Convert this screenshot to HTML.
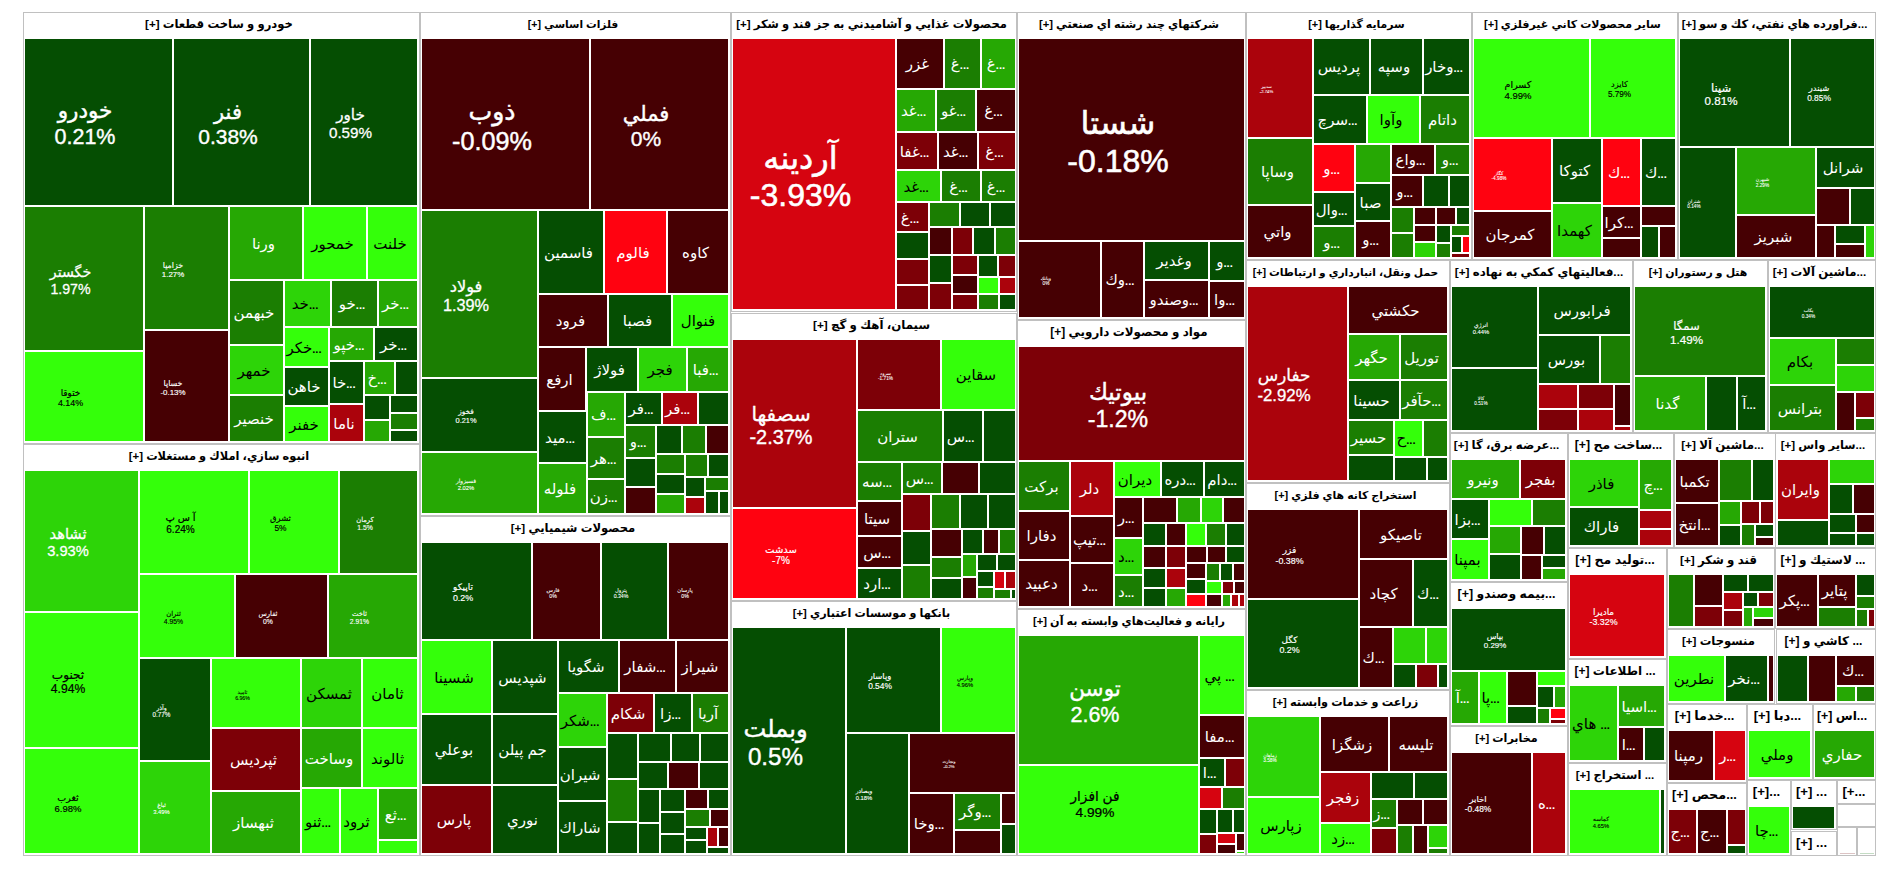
<!DOCTYPE html>
<html lang="fa"><head><meta charset="utf-8"><title>treemap</title>
<style>
html,body{margin:0;padding:0;background:#fff;}
body{width:1900px;height:873px;position:relative;overflow:hidden;font-family:"Liberation Sans","DejaVu Sans",sans-serif;}
.g{position:absolute;box-sizing:border-box;border:1px solid #c0c0c0;background:#fff;overflow:hidden;}
.h{position:absolute;left:0;right:0;top:0;height:25px;line-height:22px;font-size:11.7px;font-weight:bold;color:#000;text-align:center;padding-right:5px;white-space:nowrap;overflow:hidden;direction:rtl;}
.c{position:absolute;display:flex;flex-direction:column;align-items:center;justify-content:center;overflow:hidden;color:#fff;white-space:nowrap;line-height:1.17;text-align:center;}
.c.k{color:#000;}
.c i{font-style:normal;display:block;direction:ltr;position:relative;left:-2.5px;top:0.5px;}
.c.p i,.c.p b{position:relative;left:-13.5px;top:calc(1.3px + 0.06em);-webkit-text-stroke:0.018em currentColor;}
.c b{font-weight:normal;display:block;direction:ltr;}
.n{font-size:15px;}
.c u{text-decoration:none;font-size:.75em;font-weight:bold;}

.g1{background:#054e02;}
.g2{background:#1b7e02;}
.g3{background:#26a804;}
.g4{background:#2dd408;}
.g5{background:#34ff0a;}
.p1{background:#dcc4c4;}
.p2{background:#c4dcc4;}
.r1{background:#460003;}
.r2{background:#7d0007;}
.r3{background:#ab030c;}
.r4{background:#d60410;}
.r5{background:#ff0210;}
</style></head><body>
<div class="g" style="left:23px;top:12px;width:397px;height:432px">
<div class="h" style="font-size:11.6px">خودرو و ساخت قطعات [+]</div>
<div class="c g1 p" style="left:1px;top:26px;width:147px;height:166px;font-size:21.5px"><i>خودرو</i><b>0.21%</b></div>
<div class="c g1 p" style="left:150px;top:26px;width:135px;height:166px;font-size:21px"><i>فنر</i><b>0.38%</b></div>
<div class="c g1 p" style="left:287px;top:26px;width:106px;height:166px;font-size:15.2px"><i>خاور</i><b>0.59%</b></div>
<div class="c g2 p" style="left:1px;top:194px;width:118px;height:143px;font-size:14.2px"><i>خگستر</i><b>1.97%</b></div>
<div class="c g2 p" style="left:121px;top:194px;width:83px;height:122px;font-size:7.9px"><i>خزاميا</i><b>1.27%</b></div>
<div class="c g3 n" style="left:206px;top:194px;width:72px;height:72px"><i>ورنا</i></div>
<div class="c g5 k n" style="left:280px;top:194px;width:62px;height:72px"><i>خمحور</i></div>
<div class="c g5 k n" style="left:344px;top:194px;width:49px;height:72px"><i>خلنت</i></div>
<div class="c g5 k p" style="left:1px;top:339px;width:118px;height:89px;font-size:8.9px"><i>ختوقا</i><b>4.14%</b></div>
<div class="c r1 p" style="left:121px;top:318px;width:83px;height:110px;font-size:7.9px"><i>خساپا</i><b>-0.13%</b></div>
<div class="c g2 n" style="left:206px;top:268px;width:53px;height:63px"><i>خبهمن</i></div>
<div class="c g4 k n" style="left:206px;top:333px;width:53px;height:48px"><i>خمهر</i></div>
<div class="c g2 n" style="left:206px;top:383px;width:53px;height:45px"><i>خنصير</i></div>
<div class="c g4 k n" style="left:261px;top:268px;width:45px;height:45px"><i>خد<u>...</u></i></div>
<div class="c g2 n" style="left:308px;top:268px;width:45px;height:45px"><i>خو<u>...</u></i></div>
<div class="c g3 n" style="left:355px;top:268px;width:38px;height:45px"><i>خر<u>...</u></i></div>
<div class="c g5 k n" style="left:261px;top:315px;width:43px;height:38px"><i>خكر<u>...</u></i></div>
<div class="c g3 n" style="left:306px;top:315px;width:43px;height:32px"><i>خپو<u>...</u></i></div>
<div class="c g1 n" style="left:351px;top:315px;width:42px;height:32px"><i>خر<u>...</u></i></div>
<div class="c g1 n" style="left:261px;top:355px;width:43px;height:37px"><i>خاهن</i></div>
<div class="c g5 k n" style="left:261px;top:394px;width:43px;height:34px"><i>خفنر</i></div>
<div class="c g1 n" style="left:306px;top:349px;width:33px;height:41px"><i>خا<u>...</u></i></div>
<div class="c r3 n" style="left:306px;top:392px;width:33px;height:36px"><i>ناما</i></div>
<div class="c g3 n" style="left:341px;top:349px;width:29px;height:32px"><i>خ<u>...</u></i></div>
<div class="c g1" style="left:372px;top:349px;width:21px;height:32px"></div>
<div class="c g1" style="left:341px;top:383px;width:24px;height:23px"></div>
<div class="c g3" style="left:341px;top:408px;width:24px;height:20px"></div>
<div class="c g1" style="left:367px;top:383px;width:26px;height:16px"></div>
<div class="c g2" style="left:367px;top:401px;width:26px;height:15px"></div>
<div class="c g1" style="left:367px;top:418px;width:26px;height:10px"></div>
</div>
<div class="g" style="left:23px;top:444px;width:397px;height:412px">
<div class="h" style="font-size:11.4px">انبوه سازي، املاك و مستغلات [+]</div>
<div class="c g4 p" style="left:1px;top:26px;width:113px;height:140px;font-size:14.7px"><i>ثشاهد</i><b>3.93%</b></div>
<div class="c g5 k p" style="left:116px;top:26px;width:108px;height:102px;font-size:10px"><i>آ س پ</i><b>6.24%</b></div>
<div class="c g5 k p" style="left:226px;top:26px;width:88px;height:102px;font-size:8.4px"><i>ثشرق</i><b>5%</b></div>
<div class="c g2 p" style="left:316px;top:26px;width:77px;height:102px;font-size:6.8px"><i>كرمان</i><b>1.5%</b></div>
<div class="c g5 k p" style="left:116px;top:130px;width:94px;height:82px;font-size:6.8px"><i>ثتران</i><b>4.95%</b></div>
<div class="c r1 p" style="left:212px;top:130px;width:91px;height:82px;font-size:6.8px"><i>ثفارس</i><b>0%</b></div>
<div class="c g3 p" style="left:305px;top:130px;width:88px;height:82px;font-size:6.8px"><i>ثاخت</i><b>2.91%</b></div>
<div class="c g5 k p" style="left:1px;top:168px;width:113px;height:134px;font-size:12.1px"><i>ثجنوب</i><b>4.94%</b></div>
<div class="c g5 k p" style="left:1px;top:304px;width:113px;height:104px;font-size:9.5px"><i>ثغرب</i><b>6.98%</b></div>
<div class="c g1 p" style="left:116px;top:214px;width:70px;height:101px;font-size:6.3px"><i>وآذر</i><b>0.77%</b></div>
<div class="c g4 p" style="left:116px;top:317px;width:70px;height:91px;font-size:5.8px"><i>ثباغ</i><b>3.49%</b></div>
<div class="c g5 k p" style="left:188px;top:214px;width:88px;height:68px;font-size:5.2px"><i>ثاميد</i><b>6.96%</b></div>
<div class="c g4 k n" style="left:278px;top:214px;width:59px;height:68px"><i>ثمسكن</i></div>
<div class="c g5 k n" style="left:339px;top:214px;width:54px;height:68px"><i>ثامان</i></div>
<div class="c r2 n" style="left:188px;top:284px;width:88px;height:61px"><i>ثپرديس</i></div>
<div class="c g3 n" style="left:278px;top:284px;width:59px;height:58px"><i>وساخت</i></div>
<div class="c g5 k n" style="left:339px;top:284px;width:54px;height:58px"><i>ثالوند</i></div>
<div class="c g3 n" style="left:188px;top:347px;width:88px;height:61px"><i>ثبهساز</i></div>
<div class="c g5 k n" style="left:278px;top:344px;width:37px;height:64px"><i>ثنو<u>...</u></i></div>
<div class="c g5 k n" style="left:317px;top:344px;width:36px;height:64px"><i>ثرود</i></div>
<div class="c g3 n" style="left:355px;top:344px;width:38px;height:50px"><i>ثع<u>...</u></i></div>
<div class="c g5 k" style="left:355px;top:396px;width:38px;height:12px"></div>
</div>
<div class="g" style="left:420px;top:12px;width:311px;height:504px">
<div class="h" style="font-size:10.6px">فلزات اساسي [+]</div>
<div class="c r1 p" style="left:1px;top:26px;width:167px;height:170px;font-size:25.2px"><i>ذوب</i><b>-0.09%</b></div>
<div class="c r1 p" style="left:170px;top:26px;width:137px;height:170px;font-size:21px"><i>فملي</i><b>0%</b></div>
<div class="c g2 p" style="left:1px;top:198px;width:115px;height:166px;font-size:16.3px"><i>فولاد</i><b>1.39%</b></div>
<div class="c g1 n" style="left:118px;top:198px;width:64px;height:82px"><i>فاسمين</i></div>
<div class="c r5 n" style="left:184px;top:198px;width:61px;height:82px"><i>فالوم</i></div>
<div class="c r1 n" style="left:247px;top:198px;width:60px;height:82px"><i>كاوه</i></div>
<div class="c r1 n" style="left:118px;top:282px;width:68px;height:51px"><i>فرود</i></div>
<div class="c g1 n" style="left:188px;top:282px;width:62px;height:51px"><i>فصبا</i></div>
<div class="c g5 k n" style="left:252px;top:282px;width:55px;height:51px"><i>فنوال</i></div>
<div class="c r1 n" style="left:118px;top:335px;width:46px;height:62px"><i>ارفع</i></div>
<div class="c g1 n" style="left:166px;top:335px;width:50px;height:43px"><i>فولاژ</i></div>
<div class="c g4 k n" style="left:218px;top:335px;width:47px;height:43px"><i>فجر</i></div>
<div class="c g3 n" style="left:267px;top:335px;width:40px;height:43px"><i>فبا<u>...</u></i></div>
<div class="c g1 p" style="left:1px;top:366px;width:115px;height:72px;font-size:7.4px"><i>فخوز</i><b>0.21%</b></div>
<div class="c g3 p" style="left:1px;top:440px;width:115px;height:60px;font-size:5.8px"><i>فسبزوار</i><b>2.02%</b></div>
<div class="c g1 n" style="left:118px;top:399px;width:47px;height:50px"><i>ميد<u>...</u></i></div>
<div class="c g3 n" style="left:118px;top:451px;width:47px;height:49px"><i>فلوله</i></div>
<div class="c g3 n" style="left:167px;top:380px;width:36px;height:43px"><i>ف<u>...</u></i></div>
<div class="c g2 n" style="left:167px;top:425px;width:36px;height:40px"><i>هر<u>...</u></i></div>
<div class="c g2 n" style="left:167px;top:467px;width:36px;height:33px"><i>زن<u>...</u></i></div>
<div class="c g1 n" style="left:205px;top:380px;width:35px;height:31px"><i>فر<u>...</u></i></div>
<div class="c r3 n" style="left:242px;top:380px;width:34px;height:31px"><i>فر<u>...</u></i></div>
<div class="c g1" style="left:278px;top:380px;width:29px;height:31px"></div>
<div class="c g2 n" style="left:205px;top:413px;width:29px;height:31px"><i>و<u>...</u></i></div>
<div class="c g1" style="left:236px;top:413px;width:24px;height:27px"></div>
<div class="c g2" style="left:262px;top:413px;width:22px;height:27px"></div>
<div class="c r1" style="left:286px;top:413px;width:21px;height:27px"></div>
<div class="c g1" style="left:205px;top:446px;width:29px;height:27px"></div>
<div class="c r1" style="left:205px;top:475px;width:29px;height:25px"></div>
<div class="c g2" style="left:236px;top:442px;width:27px;height:18px"></div>
<div class="c g2" style="left:265px;top:442px;width:21px;height:21px"></div>
<div class="c g1" style="left:288px;top:442px;width:19px;height:21px"></div>
<div class="c g1" style="left:236px;top:462px;width:27px;height:18px"></div>
<div class="c g3" style="left:236px;top:482px;width:27px;height:18px"></div>
<div class="c g1" style="left:265px;top:465px;width:18px;height:18px"></div>
<div class="c r3" style="left:265px;top:485px;width:18px;height:15px"></div>
<div class="c g2" style="left:285px;top:465px;width:22px;height:12px"></div>
<div class="c g1" style="left:285px;top:479px;width:12px;height:21px"></div>
<div class="c g1" style="left:299px;top:479px;width:8px;height:21px"></div>
</div>
<div class="g" style="left:420px;top:516px;width:311px;height:340px">
<div class="h" style="font-size:11.6px">محصولات شيميايي [+]</div>
<div class="c g1 p" style="left:1px;top:26px;width:109px;height:96px;font-size:8.9px"><i>تاپيكو</i><b>0.2%</b></div>
<div class="c r1 p" style="left:112px;top:26px;width:67px;height:96px;font-size:5.2px"><i>فارس</i><b>0%</b></div>
<div class="c g1 p" style="left:181px;top:26px;width:65px;height:96px;font-size:5.2px"><i>پترول</i><b>0.34%</b></div>
<div class="c r1 p" style="left:248px;top:26px;width:59px;height:96px;font-size:5.2px"><i>پارسان</i><b>0%</b></div>
<div class="c g5 k n" style="left:1px;top:124px;width:69px;height:72px"><i>شسينا</i></div>
<div class="c g1 n" style="left:72px;top:124px;width:64px;height:72px"><i>شپديس</i></div>
<div class="c g1 n" style="left:138px;top:124px;width:59px;height:51px"><i>شگويا</i></div>
<div class="c r1 n" style="left:199px;top:124px;width:55px;height:51px"><i>شفار<u>...</u></i></div>
<div class="c r1 n" style="left:256px;top:124px;width:51px;height:51px"><i>شيراز</i></div>
<div class="c g1 n" style="left:1px;top:198px;width:69px;height:69px"><i>بوعلي</i></div>
<div class="c r2 n" style="left:1px;top:269px;width:69px;height:67px"><i>پارس</i></div>
<div class="c g1 n" style="left:72px;top:198px;width:64px;height:69px"><i>جم پيلن</i></div>
<div class="c g1 n" style="left:72px;top:269px;width:64px;height:67px"><i>نوري</i></div>
<div class="c g4 k n" style="left:138px;top:177px;width:47px;height:52px"><i>شكر<u>...</u></i></div>
<div class="c g1 n" style="left:138px;top:231px;width:47px;height:52px"><i>شيران</i></div>
<div class="c g1 n" style="left:138px;top:285px;width:47px;height:51px"><i>شاراك</i></div>
<div class="c r2 n" style="left:187px;top:177px;width:45px;height:38px"><i>شكام</i></div>
<div class="c g1 n" style="left:234px;top:177px;width:36px;height:38px"><i>زا<u>...</u></i></div>
<div class="c g2 n" style="left:272px;top:177px;width:35px;height:38px"><i>آريا</i></div>
<div class="c g1" style="left:187px;top:217px;width:29px;height:44px"></div>
<div class="c g2" style="left:187px;top:263px;width:29px;height:41px"></div>
<div class="c g1" style="left:187px;top:306px;width:29px;height:30px"></div>
<div class="c g1" style="left:218px;top:217px;width:31px;height:27px"></div>
<div class="c g1" style="left:251px;top:217px;width:27px;height:27px"></div>
<div class="c g1" style="left:280px;top:217px;width:27px;height:27px"></div>
<div class="c g1" style="left:218px;top:246px;width:28px;height:25px"></div>
<div class="c r1" style="left:248px;top:246px;width:29px;height:25px"></div>
<div class="c g1" style="left:279px;top:246px;width:28px;height:25px"></div>
<div class="c g1" style="left:218px;top:273px;width:20px;height:32px"></div>
<div class="c g1" style="left:218px;top:307px;width:20px;height:29px"></div>
<div class="c g1" style="left:240px;top:273px;width:23px;height:21px"></div>
<div class="c g1" style="left:240px;top:296px;width:23px;height:20px"></div>
<div class="c g1" style="left:240px;top:318px;width:23px;height:18px"></div>
<div class="c r1" style="left:265px;top:273px;width:21px;height:18px"></div>
<div class="c g1" style="left:288px;top:273px;width:19px;height:18px"></div>
<div class="c g2" style="left:265px;top:293px;width:23px;height:16px"></div>
<div class="c r1" style="left:290px;top:293px;width:17px;height:16px"></div>
<div class="c g1" style="left:265px;top:311px;width:20px;height:11px"></div>
<div class="c g1" style="left:265px;top:324px;width:20px;height:12px"></div>
<div class="c r3" style="left:287px;top:311px;width:9px;height:18px"></div>
<div class="c r1" style="left:298px;top:311px;width:9px;height:18px"></div>
<div class="c g1" style="left:287px;top:331px;width:20px;height:5px"></div>
</div>
<div class="g" style="left:731px;top:12px;width:286px;height:300px">
<div class="h" style="font-size:11.5px">محصولات غذايي و آشاميدني به جز قند و شكر [+]</div>
<div class="c r4 p" style="left:1px;top:26px;width:162px;height:270px;font-size:32px"><i>آردينه</i><b>-3.93%</b></div>
<div class="c r1 n" style="left:165px;top:26px;width:46px;height:49px"><i>غزر</i></div>
<div class="c g2 n" style="left:213px;top:26px;width:35px;height:49px"><i>غ<u>...</u></i></div>
<div class="c g3 n" style="left:250px;top:26px;width:33px;height:49px"><i>غ<u>...</u></i></div>
<div class="c g3 n" style="left:165px;top:77px;width:38px;height:41px"><i>غد<u>...</u></i></div>
<div class="c g2 n" style="left:205px;top:77px;width:38px;height:41px"><i>غو<u>...</u></i></div>
<div class="c r1 n" style="left:245px;top:77px;width:38px;height:41px"><i>غ<u>...</u></i></div>
<div class="c r2 n" style="left:165px;top:120px;width:40px;height:36px"><i>غفا<u>...</u></i></div>
<div class="c r1 n" style="left:207px;top:120px;width:38px;height:36px"><i>غد<u>...</u></i></div>
<div class="c r2 n" style="left:247px;top:120px;width:36px;height:36px"><i>غ<u>...</u></i></div>
<div class="c g4 k n" style="left:165px;top:158px;width:43px;height:30px"><i>غد<u>...</u></i></div>
<div class="c g2 n" style="left:210px;top:158px;width:38px;height:30px"><i>غ<u>...</u></i></div>
<div class="c g2 n" style="left:250px;top:158px;width:33px;height:30px"><i>غ<u>...</u></i></div>
<div class="c r2 n" style="left:165px;top:190px;width:31px;height:28px"><i>غ<u>...</u></i></div>
<div class="c g2" style="left:198px;top:190px;width:29px;height:23px"></div>
<div class="c g1" style="left:229px;top:190px;width:28px;height:23px"></div>
<div class="c g1" style="left:259px;top:190px;width:24px;height:23px"></div>
<div class="c g1" style="left:165px;top:220px;width:31px;height:25px"></div>
<div class="c r2" style="left:165px;top:247px;width:31px;height:24px"></div>
<div class="c r2" style="left:165px;top:273px;width:31px;height:23px"></div>
<div class="c r1" style="left:198px;top:215px;width:21px;height:26px"></div>
<div class="c r2" style="left:221px;top:215px;width:19px;height:26px"></div>
<div class="c g1" style="left:242px;top:215px;width:20px;height:26px"></div>
<div class="c g2" style="left:264px;top:215px;width:19px;height:26px"></div>
<div class="c g1" style="left:198px;top:243px;width:21px;height:26px"></div>
<div class="c r2" style="left:198px;top:271px;width:21px;height:25px"></div>
<div class="c r2" style="left:221px;top:243px;width:24px;height:18px"></div>
<div class="c g1" style="left:247px;top:243px;width:18px;height:20px"></div>
<div class="c r2" style="left:267px;top:243px;width:16px;height:20px"></div>
<div class="c r1" style="left:221px;top:263px;width:24px;height:17px"></div>
<div class="c r2" style="left:221px;top:282px;width:24px;height:14px"></div>
<div class="c g5 k" style="left:247px;top:265px;width:19px;height:15px"></div>
<div class="c r3" style="left:268px;top:265px;width:15px;height:15px"></div>
<div class="c g2" style="left:247px;top:282px;width:19px;height:14px"></div>
<div class="c g1" style="left:268px;top:282px;width:15px;height:14px"></div>
</div>
<div class="g" style="left:731px;top:313px;width:286px;height:288px">
<div class="h" style="font-size:11.8px">سيمان، آهك و گچ [+]</div>
<div class="c r3 p" style="left:1px;top:26px;width:123px;height:167px;font-size:19.9px"><i>سصفها</i><b>-2.37%</b></div>
<div class="c r5 p" style="left:1px;top:195px;width:123px;height:89px;font-size:10px"><i>سدشت</i><b>-7%</b></div>
<div class="c r2 p" style="left:126px;top:26px;width:82px;height:69px;font-size:4.7px"><i>سرود</i><b>-1.71%</b></div>
<div class="c g5 k n" style="left:210px;top:26px;width:73px;height:69px"><i>سقاين</i></div>
<div class="c g2 n" style="left:126px;top:97px;width:84px;height:50px"><i>ستران</i></div>
<div class="c g1 n" style="left:212px;top:97px;width:38px;height:50px"><i>س<u>...</u></i></div>
<div class="c g1" style="left:252px;top:97px;width:31px;height:50px"></div>
<div class="c g2 n" style="left:126px;top:149px;width:43px;height:37px"><i>سه<u>...</u></i></div>
<div class="c g2 n" style="left:171px;top:149px;width:38px;height:30px"><i>س<u>...</u></i></div>
<div class="c r1" style="left:211px;top:149px;width:35px;height:30px"></div>
<div class="c g1" style="left:248px;top:149px;width:35px;height:30px"></div>
<div class="c r1 n" style="left:126px;top:188px;width:43px;height:33px"><i>سيتا</i></div>
<div class="c r1 n" style="left:126px;top:223px;width:43px;height:30px"><i>س<u>...</u></i></div>
<div class="c g1 n" style="left:126px;top:255px;width:43px;height:29px"><i>ارد<u>...</u></i></div>
<div class="c r2" style="left:171px;top:181px;width:27px;height:35px"></div>
<div class="c g1" style="left:171px;top:218px;width:27px;height:32px"></div>
<div class="c g2" style="left:171px;top:252px;width:27px;height:32px"></div>
<div class="c g2" style="left:200px;top:181px;width:27px;height:33px"></div>
<div class="c g1" style="left:229px;top:181px;width:26px;height:33px"></div>
<div class="c g1" style="left:257px;top:181px;width:26px;height:33px"></div>
<div class="c r1" style="left:200px;top:216px;width:29px;height:26px"></div>
<div class="c g1" style="left:231px;top:216px;width:19px;height:23px"></div>
<div class="c r1" style="left:252px;top:216px;width:14px;height:23px"></div>
<div class="c g2" style="left:268px;top:216px;width:15px;height:23px"></div>
<div class="c g2" style="left:200px;top:244px;width:29px;height:19px"></div>
<div class="c g1" style="left:200px;top:265px;width:29px;height:19px"></div>
<div class="c g3" style="left:231px;top:241px;width:13px;height:21px"></div>
<div class="c r1" style="left:231px;top:264px;width:13px;height:20px"></div>
<div class="c g1" style="left:246px;top:241px;width:18px;height:15px"></div>
<div class="c g1" style="left:266px;top:241px;width:17px;height:15px"></div>
<div class="c g1" style="left:246px;top:258px;width:15px;height:14px"></div>
<div class="c g2" style="left:246px;top:274px;width:15px;height:10px"></div>
<div class="c r4" style="left:263px;top:258px;width:9px;height:16px"></div>
<div class="c r3" style="left:274px;top:258px;width:9px;height:16px"></div>
<div class="c g2" style="left:263px;top:276px;width:15px;height:8px"></div>
<div class="c g1" style="left:280px;top:276px;width:3px;height:8px"></div>
</div>
<div class="g" style="left:731px;top:601px;width:286px;height:255px">
<div class="h" style="font-size:11.2px">بانكها و موسسات اعتباري [+]</div>
<div class="c g1 p" style="left:1px;top:26px;width:112px;height:225px;font-size:24.2px"><i>وبملت</i><b>0.5%</b></div>
<div class="c g1 p" style="left:115px;top:26px;width:93px;height:104px;font-size:8.4px"><i>وپاسار</i><b>0.54%</b></div>
<div class="c g5 k p" style="left:210px;top:26px;width:73px;height:104px;font-size:5.8px"><i>وپارس</i><b>4.96%</b></div>
<div class="c g1 p" style="left:115px;top:132px;width:61px;height:119px;font-size:5.8px"><i>وبصادر</i><b>0.18%</b></div>
<div class="c r1 p" style="left:178px;top:132px;width:105px;height:58px;font-size:4.2px"><i>وتجارت</i><b>-0.2%</b></div>
<div class="c r1 n" style="left:178px;top:192px;width:43px;height:59px"><i>وخا<u>...</u></i></div>
<div class="c g2 n" style="left:223px;top:192px;width:45px;height:35px"><i>وگر<u>...</u></i></div>
<div class="c r1" style="left:223px;top:229px;width:45px;height:22px"></div>
<div class="c r1" style="left:270px;top:192px;width:13px;height:29px"></div>
<div class="c g1" style="left:270px;top:223px;width:13px;height:28px"></div>
</div>
<div class="g" style="left:1017px;top:12px;width:229px;height:308px">
<div class="h" style="font-size:11.2px">شركتهاي چند رشته اي صنعتي [+]</div>
<div class="c r1 p" style="left:1px;top:26px;width:225px;height:201px;font-size:32px"><i>شستا</i><b>-0.18%</b></div>
<div class="c r1 p" style="left:1px;top:229px;width:81px;height:75px;font-size:4.7px"><i>وبانك</i><b>0%</b></div>
<div class="c r1 n" style="left:84px;top:229px;width:41px;height:75px"><i>وك<u>...</u></i></div>
<div class="c g1 n" style="left:127px;top:229px;width:63px;height:37px"><i>وغدير</i></div>
<div class="c g1 n" style="left:192px;top:229px;width:34px;height:38px"><i>و<u>...</u></i></div>
<div class="c r1 n" style="left:127px;top:268px;width:63px;height:36px"><i>وصندو<u>...</u></i></div>
<div class="c r1 n" style="left:192px;top:269px;width:34px;height:35px"><i>وا<u>...</u></i></div>
</div>
<div class="g" style="left:1017px;top:320px;width:229px;height:289px">
<div class="h" style="font-size:11.9px">مواد و محصولات دارويي [+]</div>
<div class="c r2 p" style="left:1px;top:26px;width:225px;height:113px;font-size:23.1px"><i>بيوتيك</i><b>-1.2%</b></div>
<div class="c g2 n" style="left:1px;top:141px;width:50px;height:48px"><i>بركت</i></div>
<div class="c r3 n" style="left:53px;top:141px;width:42px;height:53px"><i>دلر</i></div>
<div class="c g5 k n" style="left:97px;top:141px;width:45px;height:34px"><i>ديران</i></div>
<div class="c g1 n" style="left:144px;top:141px;width:41px;height:34px"><i>دره<u>...</u></i></div>
<div class="c g1 n" style="left:187px;top:141px;width:39px;height:34px"><i>دام<u>...</u></i></div>
<div class="c r1 n" style="left:1px;top:191px;width:50px;height:47px"><i>دفارا</i></div>
<div class="c r1 n" style="left:1px;top:240px;width:50px;height:45px"><i>دعبيد</i></div>
<div class="c r1 n" style="left:53px;top:196px;width:42px;height:45px"><i>تيپ<u>...</u></i></div>
<div class="c r1 n" style="left:53px;top:243px;width:42px;height:42px"><i>د<u>...</u></i></div>
<div class="c r1 n" style="left:97px;top:177px;width:27px;height:39px"><i>ر<u>...</u></i></div>
<div class="c g4 k n" style="left:97px;top:218px;width:27px;height:35px"><i>د<u>...</u></i></div>
<div class="c g2 n" style="left:97px;top:255px;width:27px;height:30px"><i>د<u>...</u></i></div>
<div class="c r1" style="left:126px;top:177px;width:32px;height:24px"></div>
<div class="c g3" style="left:160px;top:177px;width:22px;height:24px"></div>
<div class="c g4 k" style="left:184px;top:177px;width:20px;height:24px"></div>
<div class="c r1" style="left:206px;top:177px;width:20px;height:24px"></div>
<div class="c g1" style="left:126px;top:203px;width:21px;height:21px"></div>
<div class="c r1" style="left:149px;top:203px;width:18px;height:21px"></div>
<div class="c g5 k" style="left:169px;top:203px;width:18px;height:21px"></div>
<div class="c g2" style="left:189px;top:203px;width:18px;height:21px"></div>
<div class="c g1" style="left:209px;top:203px;width:17px;height:21px"></div>
<div class="c r1" style="left:126px;top:226px;width:21px;height:20px"></div>
<div class="c r2" style="left:149px;top:226px;width:18px;height:20px"></div>
<div class="c r1" style="left:169px;top:226px;width:19px;height:15px"></div>
<div class="c r1" style="left:190px;top:226px;width:17px;height:15px"></div>
<div class="c g1" style="left:209px;top:226px;width:17px;height:15px"></div>
<div class="c g1" style="left:126px;top:248px;width:21px;height:18px"></div>
<div class="c r3" style="left:149px;top:248px;width:18px;height:18px"></div>
<div class="c r1" style="left:169px;top:243px;width:18px;height:14px"></div>
<div class="c g2" style="left:189px;top:243px;width:12px;height:16px"></div>
<div class="c g1" style="left:203px;top:243px;width:11px;height:16px"></div>
<div class="c r1" style="left:216px;top:243px;width:10px;height:16px"></div>
<div class="c g1" style="left:126px;top:268px;width:21px;height:17px"></div>
<div class="c g3" style="left:149px;top:268px;width:18px;height:17px"></div>
<div class="c g1" style="left:169px;top:259px;width:18px;height:13px"></div>
<div class="c r5" style="left:169px;top:274px;width:18px;height:11px"></div>
<div class="c g5 k" style="left:189px;top:261px;width:14px;height:11px"></div>
<div class="c r2" style="left:205px;top:261px;width:10px;height:11px"></div>
<div class="c r1" style="left:217px;top:261px;width:9px;height:11px"></div>
<div class="c r1" style="left:189px;top:274px;width:14px;height:11px"></div>
<div class="c g3" style="left:205px;top:274px;width:7px;height:11px"></div>
<div class="c r3" style="left:214px;top:274px;width:6px;height:11px"></div>
<div class="c r3" style="left:222px;top:274px;width:4px;height:11px"></div>
</div>
<div class="g" style="left:1017px;top:609px;width:229px;height:247px">
<div class="h" style="font-size:11.2px">رايانه و فعاليت‌هاي وابسته به آن [+]</div>
<div class="c g3 p" style="left:1px;top:26px;width:179px;height:128px;font-size:21.5px"><i>توسن</i><b>2.6%</b></div>
<div class="c g5 k p" style="left:1px;top:156px;width:179px;height:87px;font-size:13.7px"><div style="transform:translate(0px,-7.5px)"><i>فن افزار</i><b>4.99%</b></div></div>
<div class="c g5 k n" style="left:182px;top:26px;width:44px;height:78px"><i>پي <u>...</u></i></div>
<div class="c r1 n" style="left:182px;top:106px;width:44px;height:41px"><i>مفا<u>...</u></i></div>
<div class="c g1 n" style="left:182px;top:149px;width:24px;height:27px"><i>ا<u>...</u></i></div>
<div class="c r2" style="left:208px;top:149px;width:18px;height:27px"></div>
<div class="c r4" style="left:182px;top:178px;width:21px;height:20px"></div>
<div class="c g2" style="left:205px;top:178px;width:21px;height:20px"></div>
<div class="c g1" style="left:182px;top:200px;width:16px;height:23px"></div>
<div class="c g1" style="left:200px;top:200px;width:14px;height:22px"></div>
<div class="c g1" style="left:216px;top:200px;width:10px;height:22px"></div>
<div class="c r2" style="left:182px;top:225px;width:16px;height:18px"></div>
<div class="c r4" style="left:200px;top:224px;width:17px;height:9px"></div>
<div class="c r1" style="left:219px;top:224px;width:7px;height:16px"></div>
<div class="c r1" style="left:200px;top:235px;width:17px;height:8px"></div>
<div class="c g4 k" style="left:219px;top:242px;width:7px;height:1px"></div>
</div>
<div class="g" style="left:1246px;top:12px;width:226px;height:248px">
<div class="h" style="font-size:10.9px">سرمايه گذاريها [+]</div>
<div class="c r3 p" style="left:1px;top:26px;width:64px;height:98px;font-size:4.2px"><i>سدبير</i><b>-2.74%</b></div>
<div class="c g1 n" style="left:67px;top:26px;width:55px;height:55px"><i>پرديس</i></div>
<div class="c g1 n" style="left:124px;top:26px;width:51px;height:55px"><i>وسپه</i></div>
<div class="c g1 n" style="left:177px;top:26px;width:45px;height:55px"><i>وخار<u>...</u></i></div>
<div class="c g1 n" style="left:67px;top:83px;width:52px;height:47px"><i>سرچ<u>...</u></i></div>
<div class="c g5 k n" style="left:121px;top:83px;width:51px;height:47px"><i>وآوا</i></div>
<div class="c g2 n" style="left:174px;top:83px;width:48px;height:47px"><i>داتام</i></div>
<div class="c g2 n" style="left:1px;top:126px;width:64px;height:65px"><i>وساپا</i></div>
<div class="c r1 n" style="left:1px;top:193px;width:64px;height:51px"><i>واتي</i></div>
<div class="c r5 n" style="left:67px;top:132px;width:40px;height:46px"><i>و<u>...</u></i></div>
<div class="c g1 n" style="left:67px;top:180px;width:40px;height:32px"><i>وال<u>...</u></i></div>
<div class="c g2 n" style="left:67px;top:214px;width:40px;height:30px"><i>و<u>...</u></i></div>
<div class="c g3" style="left:109px;top:132px;width:34px;height:37px"></div>
<div class="c g1 n" style="left:109px;top:171px;width:34px;height:36px"><i>صبا</i></div>
<div class="c r1 n" style="left:109px;top:209px;width:34px;height:35px"><i>و<u>...</u></i></div>
<div class="c r1 n" style="left:145px;top:132px;width:42px;height:29px"><i>واع<u>...</u></i></div>
<div class="c g2 n" style="left:189px;top:132px;width:33px;height:29px"><i>و<u>...</u></i></div>
<div class="c r1 n" style="left:145px;top:163px;width:30px;height:30px"><i>و<u>...</u></i></div>
<div class="c g1" style="left:177px;top:163px;width:24px;height:30px"></div>
<div class="c g1" style="left:203px;top:163px;width:19px;height:30px"></div>
<div class="c g2" style="left:145px;top:195px;width:21px;height:24px"></div>
<div class="c g2" style="left:145px;top:221px;width:21px;height:23px"></div>
<div class="c r1" style="left:168px;top:195px;width:20px;height:16px"></div>
<div class="c r1" style="left:190px;top:195px;width:18px;height:16px"></div>
<div class="c g1" style="left:210px;top:195px;width:12px;height:16px"></div>
<div class="c r1" style="left:168px;top:213px;width:20px;height:15px"></div>
<div class="c g4 k" style="left:168px;top:230px;width:20px;height:14px"></div>
<div class="c g1" style="left:190px;top:213px;width:13px;height:16px"></div>
<div class="c g2" style="left:190px;top:231px;width:13px;height:13px"></div>
<div class="c g2" style="left:205px;top:213px;width:17px;height:9px"></div>
<div class="c g1" style="left:205px;top:224px;width:9px;height:15px"></div>
<div class="c r5" style="left:216px;top:224px;width:6px;height:15px"></div>
<div class="c r2" style="left:205px;top:241px;width:17px;height:3px"></div>
</div>
<div class="g" style="left:1246px;top:260px;width:204px;height:223px">
<div class="h" style="font-size:10.7px">حمل ونقل، انبارداري و ارتباطات [+]</div>
<div class="c r3 p" style="left:1px;top:26px;width:99px;height:193px;font-size:16.8px"><i>حفارس</i><b>-2.92%</b></div>
<div class="c r1 n" style="left:102px;top:26px;width:98px;height:46px"><i>حكشتي</i></div>
<div class="c g3 n" style="left:102px;top:74px;width:50px;height:44px"><i>حگهر</i></div>
<div class="c g2 n" style="left:154px;top:74px;width:46px;height:44px"><i>توريل</i></div>
<div class="c g1 n" style="left:102px;top:120px;width:50px;height:38px"><i>حسينا</i></div>
<div class="c g2 n" style="left:154px;top:120px;width:46px;height:38px"><i>حآفر<u>...</u></i></div>
<div class="c g2 n" style="left:102px;top:160px;width:44px;height:33px"><i>حسير</i></div>
<div class="c g5 k n" style="left:148px;top:160px;width:27px;height:35px"><i>ح<u>...</u></i></div>
<div class="c g2" style="left:177px;top:160px;width:23px;height:35px"></div>
<div class="c g1" style="left:102px;top:195px;width:44px;height:24px"></div>
<div class="c g1" style="left:148px;top:197px;width:31px;height:22px"></div>
<div class="c g1" style="left:181px;top:197px;width:19px;height:22px"></div>
</div>
<div class="g" style="left:1246px;top:483px;width:204px;height:207px">
<div class="h" style="font-size:10.9px">استخراج كانه هاي فلزي [+]</div>
<div class="c r1 p" style="left:1px;top:26px;width:110px;height:88px;font-size:8.9px"><i>فزر</i><b>-0.38%</b></div>
<div class="c g1 p" style="left:1px;top:116px;width:110px;height:87px;font-size:8.9px"><i>كگل</i><b>0.2%</b></div>
<div class="c r1 n" style="left:113px;top:26px;width:87px;height:48px"><i>تاصيكو</i></div>
<div class="c r1 n" style="left:113px;top:76px;width:52px;height:66px"><i>كچاد</i></div>
<div class="c g1 n" style="left:167px;top:76px;width:33px;height:66px"><i>ك<u>...</u></i></div>
<div class="c r1 n" style="left:113px;top:144px;width:32px;height:59px"><i>ك<u>...</u></i></div>
<div class="c g4 k" style="left:147px;top:144px;width:31px;height:35px"></div>
<div class="c g4 k" style="left:180px;top:144px;width:20px;height:35px"></div>
<div class="c g1" style="left:147px;top:181px;width:21px;height:22px"></div>
<div class="c r2" style="left:170px;top:181px;width:20px;height:22px"></div>
<div class="c g1" style="left:192px;top:181px;width:8px;height:22px"></div>
</div>
<div class="g" style="left:1246px;top:690px;width:204px;height:166px">
<div class="h" style="font-size:11.3px">زراعت و خدمات وابسته [+]</div>
<div class="c g4 p" style="left:1px;top:26px;width:71px;height:79px;font-size:4.7px"><i>زماهان</i><b>3.58%</b></div>
<div class="c g5 k n" style="left:1px;top:107px;width:71px;height:55px"><i>زپارس</i></div>
<div class="c r1 n" style="left:74px;top:26px;width:67px;height:54px"><i>زشگزا</i></div>
<div class="c r1 n" style="left:143px;top:26px;width:57px;height:54px"><i>تليسه</i></div>
<div class="c r3 n" style="left:74px;top:82px;width:49px;height:49px"><i>زفجر</i></div>
<div class="c g5 k n" style="left:74px;top:133px;width:49px;height:29px"><i>زد<u>...</u></i></div>
<div class="c g1" style="left:125px;top:82px;width:41px;height:25px"></div>
<div class="c g1" style="left:168px;top:82px;width:32px;height:25px"></div>
<div class="c g2 n" style="left:125px;top:109px;width:24px;height:27px"><i>ز<u>...</u></i></div>
<div class="c r2" style="left:125px;top:138px;width:24px;height:24px"></div>
<div class="c r1" style="left:151px;top:109px;width:24px;height:24px"></div>
<div class="c r1" style="left:177px;top:109px;width:23px;height:24px"></div>
<div class="c g2" style="left:151px;top:135px;width:14px;height:27px"></div>
<div class="c r1" style="left:167px;top:135px;width:13px;height:27px"></div>
<div class="c g4 k" style="left:182px;top:135px;width:18px;height:21px"></div>
<div class="c g2" style="left:182px;top:158px;width:18px;height:4px"></div>
</div>
<div class="g" style="left:1472px;top:12px;width:206px;height:248px">
<div class="h" style="font-size:11px">ساير محصولات كاني غيرفلزي [+]</div>
<div class="c g5 k p" style="left:1px;top:26px;width:115px;height:98px;font-size:9.5px"><i>كسرام</i><b>4.99%</b></div>
<div class="c g5 k p" style="left:118px;top:26px;width:84px;height:98px;font-size:8.2px"><i>كايزد</i><b>5.79%</b></div>
<div class="c r5 p" style="left:1px;top:126px;width:77px;height:71px;font-size:4.7px"><i>كگاز</i><b>-4.98%</b></div>
<div class="c g1 n" style="left:80px;top:126px;width:48px;height:63px"><i>كتوكا</i></div>
<div class="c r5 n" style="left:130px;top:126px;width:37px;height:66px"><i>ك<u>...</u></i></div>
<div class="c g1 n" style="left:169px;top:126px;width:33px;height:66px"><i>ك<u>...</u></i></div>
<div class="c r1 n" style="left:1px;top:199px;width:77px;height:45px"><i>كمرجان</i></div>
<div class="c g4 k n" style="left:80px;top:191px;width:48px;height:53px"><i>كهمدا</i></div>
<div class="c r1 n" style="left:130px;top:194px;width:37px;height:30px"><i>كرا<u>...</u></i></div>
<div class="c r1" style="left:130px;top:226px;width:37px;height:18px"></div>
<div class="c r1" style="left:169px;top:194px;width:33px;height:18px"></div>
<div class="c g1" style="left:169px;top:214px;width:16px;height:30px"></div>
<div class="c r1" style="left:187px;top:214px;width:15px;height:30px"></div>
</div>
<div class="g" style="left:1678px;top:12px;width:198px;height:248px">
<div class="h" style="font-size:11.4px">...فراورده هاي نفتي، كك و سو [+]</div>
<div class="c g1 p" style="left:1px;top:26px;width:109px;height:107px;font-size:11.6px"><i>شپنا</i><b>0.81%</b></div>
<div class="c g1 p" style="left:112px;top:26px;width:83px;height:107px;font-size:8.4px"><i>شبندر</i><b>0.85%</b></div>
<div class="c g1 p" style="left:1px;top:135px;width:55px;height:109px;font-size:4.7px"><i>شتران</i><b>0.14%</b></div>
<div class="c g3 p" style="left:58px;top:135px;width:78px;height:66px;font-size:4.7px"><i>شبهرن</i><b>2.29%</b></div>
<div class="c g1 n" style="left:138px;top:135px;width:57px;height:39px"><i>شرانل</i></div>
<div class="c r1 n" style="left:58px;top:203px;width:78px;height:41px"><i>شبريز</i></div>
<div class="c r1" style="left:138px;top:176px;width:32px;height:35px"></div>
<div class="c g1" style="left:172px;top:176px;width:23px;height:35px"></div>
<div class="c r1" style="left:138px;top:213px;width:17px;height:31px"></div>
<div class="c g1" style="left:157px;top:213px;width:28px;height:17px"></div>
<div class="c r1" style="left:157px;top:232px;width:28px;height:12px"></div>
<div class="c g4 k" style="left:187px;top:213px;width:8px;height:31px"></div>
</div>
<div class="g" style="left:1450px;top:260px;width:183px;height:173px">
<div class="h" style="font-size:11.8px">...فعاليتهاي كمكي به نهاده [+]</div>
<div class="c g1 p" style="left:1px;top:26px;width:85px;height:80px;font-size:5.8px"><i>انرژي</i><b>0.44%</b></div>
<div class="c g1 p" style="left:1px;top:108px;width:85px;height:61px;font-size:4.7px"><i>كالا</i><b>0.51%</b></div>
<div class="c g1 n" style="left:88px;top:26px;width:91px;height:47px"><i>فرابورس</i></div>
<div class="c g1 n" style="left:88px;top:75px;width:60px;height:47px"><i>بورس</i></div>
<div class="c g2" style="left:150px;top:75px;width:29px;height:47px"></div>
<div class="c r3" style="left:88px;top:124px;width:38px;height:23px"></div>
<div class="c r2" style="left:88px;top:149px;width:38px;height:20px"></div>
<div class="c r2" style="left:128px;top:124px;width:34px;height:23px"></div>
<div class="c r3" style="left:128px;top:149px;width:34px;height:20px"></div>
<div class="c r1" style="left:164px;top:124px;width:15px;height:40px"></div>
<div class="c r3" style="left:164px;top:166px;width:15px;height:3px"></div>
</div>
<div class="g" style="left:1633px;top:260px;width:135px;height:173px">
<div class="h" style="font-size:10.9px">هتل و رستوران [+]</div>
<div class="c g2 p" style="left:1px;top:26px;width:130px;height:88px;font-size:11.6px"><i>سمگا</i><b>1.49%</b></div>
<div class="c g3 n" style="left:1px;top:116px;width:70px;height:53px"><i>گدنا</i></div>
<div class="c g1" style="left:73px;top:116px;width:29px;height:53px"></div>
<div class="c g1 n" style="left:104px;top:116px;width:27px;height:53px"><i>آ<u>...</u></i></div>
</div>
<div class="g" style="left:1768px;top:260px;width:108px;height:173px">
<div class="h" style="font-size:11.7px">...ماشين آلات [+]</div>
<div class="c g1 p" style="left:1px;top:26px;width:104px;height:50px;font-size:4.7px"><i>بكاب</i><b>0.34%</b></div>
<div class="c g4 k n" style="left:1px;top:78px;width:65px;height:45px"><i>بكام</i></div>
<div class="c g2" style="left:68px;top:78px;width:37px;height:25px"></div>
<div class="c g4 k" style="left:68px;top:105px;width:37px;height:25px"></div>
<div class="c g2 n" style="left:1px;top:125px;width:65px;height:44px"><i>بترانس</i></div>
<div class="c r1" style="left:68px;top:132px;width:17px;height:37px"></div>
<div class="c r2" style="left:87px;top:132px;width:18px;height:24px"></div>
<div class="c g2" style="left:87px;top:158px;width:18px;height:11px"></div>
</div>
<div class="g" style="left:1450px;top:433px;width:118px;height:149px">
<div class="h" style="font-size:11.7px">...عرضه برق، گا [+]</div>
<div class="c g3 n" style="left:1px;top:26px;width:67px;height:38px"><i>ونيرو</i></div>
<div class="c r2 n" style="left:70px;top:26px;width:44px;height:38px"><i>بفجر</i></div>
<div class="c g1 n" style="left:1px;top:66px;width:36px;height:38px"><i>بزا<u>...</u></i></div>
<div class="c g5 k n" style="left:1px;top:106px;width:36px;height:39px"><i>بمپنا</i></div>
<div class="c g5 k" style="left:39px;top:66px;width:41px;height:25px"></div>
<div class="c g2" style="left:82px;top:66px;width:32px;height:25px"></div>
<div class="c g3" style="left:39px;top:93px;width:30px;height:26px"></div>
<div class="c g1" style="left:39px;top:121px;width:30px;height:24px"></div>
<div class="c r1" style="left:71px;top:93px;width:21px;height:27px"></div>
<div class="c g1" style="left:94px;top:93px;width:20px;height:27px"></div>
<div class="c r1" style="left:71px;top:122px;width:19px;height:23px"></div>
<div class="c g1" style="left:92px;top:122px;width:22px;height:11px"></div>
<div class="c g3" style="left:92px;top:135px;width:22px;height:10px"></div>
</div>
<div class="g" style="left:1450px;top:582px;width:118px;height:144px">
<div class="h" style="font-size:12.4px">...بيمه وصندو [+]</div>
<div class="c g1 p" style="left:1px;top:26px;width:113px;height:61px;font-size:7.9px"><i>بپاس</i><b>0.29%</b></div>
<div class="c g3 n" style="left:1px;top:89px;width:26px;height:51px"><i>آ<u>...</u></i></div>
<div class="c g5 k n" style="left:29px;top:89px;width:26px;height:51px"><i>پا<u>...</u></i></div>
<div class="c r1" style="left:57px;top:89px;width:28px;height:33px"></div>
<div class="c g1" style="left:57px;top:124px;width:28px;height:16px"></div>
<div class="c g5 k" style="left:87px;top:89px;width:27px;height:13px"></div>
<div class="c g1" style="left:87px;top:104px;width:15px;height:20px"></div>
<div class="c g3" style="left:104px;top:104px;width:10px;height:20px"></div>
<div class="c g2" style="left:87px;top:126px;width:11px;height:14px"></div>
<div class="c r5" style="left:100px;top:126px;width:14px;height:9px"></div>
<div class="c r2" style="left:100px;top:137px;width:14px;height:3px"></div>
</div>
<div class="g" style="left:1450px;top:726px;width:118px;height:130px">
<div class="h" style="font-size:11.2px">مخابرات [+]</div>
<div class="c r1 p" style="left:1px;top:26px;width:79px;height:100px;font-size:8.4px"><i>اخابر</i><b>-0.48%</b></div>
<div class="c r3 n" style="left:82px;top:26px;width:32px;height:100px"><i>ه<u>...</u></i></div>
</div>
<div class="g" style="left:1568px;top:433px;width:106px;height:115px">
<div class="h" style="font-size:12.3px">...ساخت مح [+]</div>
<div class="c g4 k n" style="left:1px;top:26px;width:68px;height:46px"><i>فاذر</i></div>
<div class="c g1 n" style="left:1px;top:74px;width:68px;height:37px"><i>فاراك</i></div>
<div class="c g3 n" style="left:71px;top:26px;width:31px;height:49px"><i>چ<u>...</u></i></div>
<div class="c r3" style="left:71px;top:77px;width:31px;height:17px"></div>
<div class="c r3" style="left:71px;top:96px;width:31px;height:15px"></div>
</div>
<div class="g" style="left:1674px;top:433px;width:102px;height:115px">
<div class="h" style="font-size:11.8px">...ماشين آلا [+]</div>
<div class="c r1 n" style="left:1px;top:26px;width:42px;height:42px"><i>تكمبا</i></div>
<div class="c r1 n" style="left:1px;top:70px;width:42px;height:41px"><i>انتخ<u>...</u></i></div>
<div class="c g2" style="left:45px;top:26px;width:31px;height:40px"></div>
<div class="c g1" style="left:78px;top:26px;width:20px;height:40px"></div>
<div class="c g3" style="left:45px;top:68px;width:20px;height:22px"></div>
<div class="c r2" style="left:67px;top:68px;width:17px;height:21px"></div>
<div class="c r2" style="left:86px;top:68px;width:12px;height:21px"></div>
<div class="c g1" style="left:45px;top:92px;width:20px;height:19px"></div>
<div class="c g2" style="left:67px;top:91px;width:12px;height:20px"></div>
<div class="c g1" style="left:81px;top:91px;width:17px;height:11px"></div>
<div class="c r1" style="left:81px;top:104px;width:17px;height:7px"></div>
</div>
<div class="g" style="left:1775px;top:433px;width:101px;height:115px">
<div class="h" style="font-size:11.5px">...ساير واس [+]</div>
<div class="c r3 n" style="left:2px;top:26px;width:50px;height:59px"><i>وايران</i></div>
<div class="c g1" style="left:2px;top:87px;width:50px;height:24px"></div>
<div class="c g4 k" style="left:54px;top:26px;width:44px;height:23px"></div>
<div class="c g1" style="left:54px;top:51px;width:22px;height:28px"></div>
<div class="c r1" style="left:78px;top:51px;width:20px;height:28px"></div>
<div class="c g1" style="left:54px;top:81px;width:25px;height:17px"></div>
<div class="c r1" style="left:81px;top:81px;width:17px;height:17px"></div>
<div class="c g1" style="left:54px;top:100px;width:25px;height:11px"></div>
<div class="c g1" style="left:81px;top:100px;width:17px;height:11px"></div>
</div>
<div class="g" style="left:1568px;top:548px;width:99px;height:111px">
<div class="h" style="font-size:12.5px">...توليد مح [+]</div>
<div class="c r4 p" style="left:1px;top:26px;width:94px;height:81px;font-size:8.9px"><i>ماديرا</i><b>-3.32%</b></div>
</div>
<div class="g" style="left:1568px;top:659px;width:99px;height:104px">
<div class="h" style="font-size:12px">... اطلاعات [+]</div>
<div class="c g4 k n" style="left:1px;top:26px;width:47px;height:74px"><i>هاي <u>...</u></i></div>
<div class="c g3 n" style="left:50px;top:26px;width:45px;height:40px"><i>اسيا<u>...</u></i></div>
<div class="c r1 n" style="left:50px;top:68px;width:24px;height:32px"><i>ا<u>...</u></i></div>
<div class="c g1" style="left:76px;top:68px;width:19px;height:32px"></div>
</div>
<div class="g" style="left:1568px;top:763px;width:99px;height:93px">
<div class="h" style="font-size:11.6px">... استخراج [+]</div>
<div class="c g5 k p" style="left:1px;top:26px;width:89px;height:63px;font-size:5.8px"><i>كماسه</i><b>4.65%</b></div>
<div class="c g1" style="left:92px;top:26px;width:3px;height:63px"></div>
</div>
<div class="g" style="left:1667px;top:548px;width:108px;height:81px">
<div class="h" style="font-size:11.8px">قند و شكر [+]</div>
<div class="c g2" style="left:1px;top:26px;width:24px;height:51px"></div>
<div class="c r1" style="left:27px;top:26px;width:27px;height:30px"></div>
<div class="c r2" style="left:27px;top:58px;width:27px;height:19px"></div>
<div class="c g1" style="left:56px;top:26px;width:23px;height:16px"></div>
<div class="c g1" style="left:81px;top:26px;width:24px;height:16px"></div>
<div class="c r3" style="left:56px;top:44px;width:18px;height:16px"></div>
<div class="c r2" style="left:56px;top:62px;width:18px;height:15px"></div>
<div class="c g1" style="left:76px;top:44px;width:13px;height:13px"></div>
<div class="c r2" style="left:91px;top:44px;width:14px;height:13px"></div>
<div class="c g3" style="left:76px;top:59px;width:8px;height:18px"></div>
<div class="c g4 k" style="left:86px;top:59px;width:19px;height:9px"></div>
<div class="c r1" style="left:86px;top:70px;width:19px;height:7px"></div>
</div>
<div class="g" style="left:1775px;top:548px;width:101px;height:81px">
<div class="h" style="font-size:12.1px">... لاستيك و [+]</div>
<div class="c r1 n" style="left:1px;top:26px;width:40px;height:51px"><i>پكر<u>...</u></i></div>
<div class="c r1 n" style="left:43px;top:26px;width:36px;height:31px"><i>پتاير</i></div>
<div class="c g2" style="left:43px;top:59px;width:36px;height:18px"></div>
<div class="c g1" style="left:81px;top:26px;width:17px;height:20px"></div>
<div class="c g2" style="left:81px;top:48px;width:17px;height:11px"></div>
<div class="c g2" style="left:81px;top:61px;width:10px;height:16px"></div>
<div class="c r2" style="left:93px;top:61px;width:5px;height:16px"></div>
</div>
<div class="g" style="left:1667px;top:629px;width:108px;height:75px">
<div class="h" style="font-size:11.6px">منسوجات [+]</div>
<div class="c g5 k n" style="left:1px;top:26px;width:55px;height:45px"><i>نطرين</i></div>
<div class="c g1 n" style="left:58px;top:26px;width:41px;height:45px"><i>نخر<u>...</u></i></div>
<div class="c r1" style="left:101px;top:26px;width:4px;height:45px"></div>
</div>
<div class="g" style="left:1776px;top:629px;width:100px;height:75px">
<div class="h" style="font-size:12px">... كاشي و [+]</div>
<div class="c g1" style="left:1px;top:26px;width:29px;height:45px"></div>
<div class="c r1" style="left:32px;top:26px;width:26px;height:45px"></div>
<div class="c r1 n" style="left:60px;top:26px;width:37px;height:29px"><i>ك<u>...</u></i></div>
<div class="c g3" style="left:60px;top:57px;width:18px;height:14px"></div>
<div class="c g2" style="left:80px;top:57px;width:17px;height:14px"></div>
</div>
<div class="g" style="left:1667px;top:704px;width:80px;height:79px">
<div class="h" style="font-size:12.8px">...خدما [+]</div>
<div class="c r1 n" style="left:1px;top:26px;width:44px;height:49px"><i>رمپنا</i></div>
<div class="c r4 n" style="left:47px;top:26px;width:30px;height:49px"><i>ر<u>...</u></i></div>
</div>
<div class="g" style="left:1747px;top:704px;width:66px;height:76px">
<div class="h" style="font-size:13.1px">...دبا [+]</div>
<div class="c g5 k n" style="left:1px;top:26px;width:61px;height:46px"><i>وملي</i></div>
</div>
<div class="g" style="left:1813px;top:704px;width:63px;height:76px">
<div class="h" style="font-size:12.3px">...اس [+]</div>
<div class="c g3 n" style="left:1px;top:26px;width:59px;height:46px"><i>حفاري</i></div>
</div>
<div class="g" style="left:1667px;top:783px;width:80px;height:73px">
<div class="h" style="font-size:12.8px">...محص [+]</div>
<div class="c r2 n" style="left:1px;top:26px;width:27px;height:43px"><i>ج<u>...</u></i></div>
<div class="c r1 n" style="left:30px;top:26px;width:28px;height:43px"><i>ج<u>...</u></i></div>
<div class="c r2" style="left:60px;top:26px;width:17px;height:34px"></div>
<div class="c g1" style="left:60px;top:62px;width:17px;height:7px"></div>
</div>
<div class="g" style="left:1747px;top:780px;width:44px;height:76px">
<div class="h" style="font-size:13.2px">...[+]</div>
<div class="c g5 k n" style="left:1px;top:26px;width:40px;height:46px"><i>چا<u>...</u></i></div>
</div>
<div class="g" style="left:1791px;top:780px;width:46px;height:50px">
<div class="h" style="font-size:13.2px">... [+]</div>
<div class="c g1" style="left:1px;top:26px;width:41px;height:21px"></div>
</div>
<div class="g" style="left:1837px;top:780px;width:39px;height:24px">
<div class="h" style="font-size:13.2px">...+]</div>
</div>
<div class="g" style="left:1837px;top:804px;width:39px;height:23px">
</div>
<div class="g" style="left:1837px;top:827px;width:20px;height:29px">
<div class="c p1" style="left:2px;top:25px;width:15px;height:1px"></div>
</div>
<div class="g" style="left:1857px;top:827px;width:19px;height:29px">
<div class="c p2" style="left:2px;top:25px;width:14px;height:1px"></div>
</div>
<div class="g" style="left:1791px;top:831px;width:46px;height:25px">
<div class="h" style="font-size:13.2px">... [+]</div>
</div>
</body></html>
